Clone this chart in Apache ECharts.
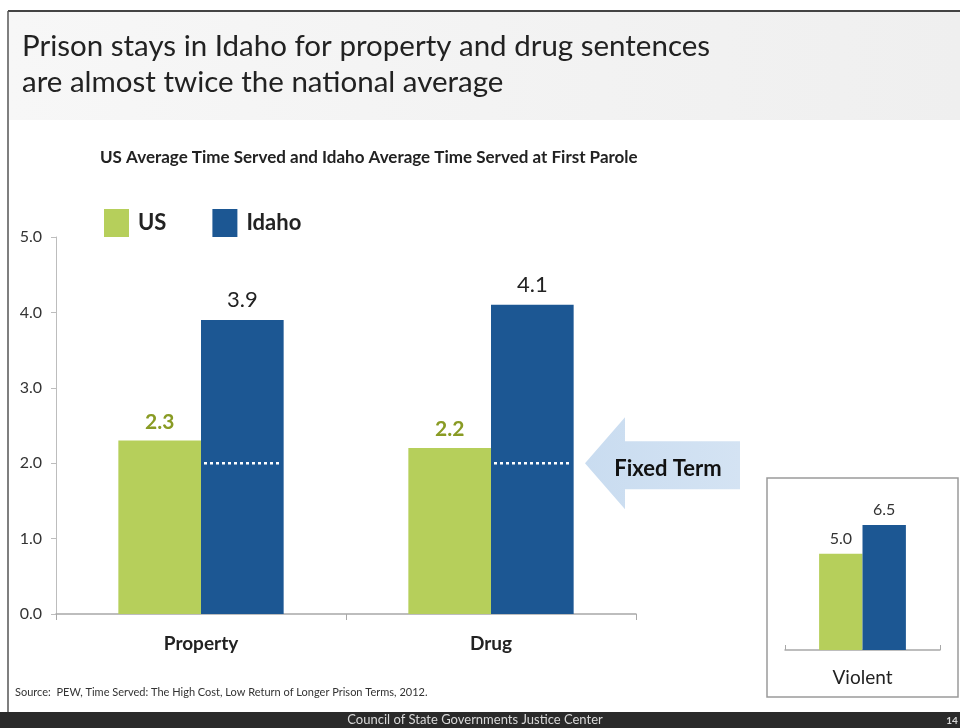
<!DOCTYPE html>
<html>
<head>
<meta charset="utf-8">
<script src="https://cdn.jsdelivr.net/npm/echarts@6/dist/echarts.min.js"></script>
<style>
  html, body { margin: 0; padding: 0; background: #fff; }
  #chart { width: 960px; height: 728px; }
</style>
</head>
<body>
<div id="chart"></div>
<script>
// Main panel: property and drug offences
const categories = ['Property', 'Drug'];
const usValues = [2.3, 2.2];
const idahoValues = [3.9, 4.1];
const fixedTerm = [2.0, 2.0];
const yTicks = [0, 1, 2, 3, 4, 5];

// Inset panel: violent offences
const violentCategories = ['Violent'];
const usViolent = [5.0];
const idahoViolent = [6.5];

const GREEN = '#b6cf5b';
const BLUE = '#1c5793';
const FONT = 'Lato, "Open Sans", sans-serif';

const chart = echarts.init(document.getElementById('chart'));

const option = {
  backgroundColor: '#ffffff',
  animation: false,
  textStyle: { fontFamily: FONT },
  legend: {
    data: ['US', 'Idaho'],
    left: 99,
    top: 204,
    itemWidth: 25,
    itemHeight: 28,
    itemGap: 46,
    icon: 'rect',
    textStyle: { fontSize: 22, fontWeight: 'bold', color: '#222', fontFamily: FONT, padding: [0, 0, 0, 4] }
  },
  grid: [
    { left: 56, top: 237, width: 580, height: 377 },
    { left: 785, top: 496, width: 155, height: 154 }
  ],
  xAxis: [
    {
      type: 'category', gridIndex: 0, data: categories,
      axisLine: { lineStyle: { color: '#a8a8a8', width: 1.5 } },
      axisTick: { show: true, lineStyle: { color: '#a8a8a8' }, length: 6 },
      axisLabel: { fontSize: 19, fontWeight: 'bold', color: '#222', margin: 20, fontFamily: FONT }
    },
    {
      type: 'category', gridIndex: 1, data: violentCategories,
      axisLine: { lineStyle: { color: '#a8a8a8', width: 1.5 } },
      axisTick: { show: true, inside: true, length: 5, lineStyle: { color: '#a8a8a8' } },
      axisLabel: { fontSize: 19, color: '#222', margin: 18, fontFamily: FONT }
    }
  ],
  yAxis: [
    {
      type: 'value', gridIndex: 0, min: yTicks[0], max: yTicks[yTicks.length - 1], interval: 1,
      axisLine: { show: true, lineStyle: { color: '#bdbdbd', width: 1 } },
      axisTick: { show: true, length: 5, lineStyle: { color: '#bdbdbd' } },
      splitLine: { show: false },
      axisLabel: { fontSize: 16, color: '#333', margin: 14, formatter: v => v.toFixed(1), fontFamily: FONT }
    },
    {
      type: 'value', gridIndex: 1, min: 0, max: 8,
      show: false, splitLine: { show: false }
    }
  ],
  series: [
    {
      name: 'US', type: 'bar', xAxisIndex: 0, yAxisIndex: 0, data: usValues,
      itemStyle: { color: GREEN }, barGap: '0%', barCategoryGap: '43%',
      label: { show: true, position: 'top', distance: 8, fontSize: 21, fontWeight: 'bold', color: '#899b24',
               formatter: p => p.value.toFixed(1), fontFamily: FONT }
    },
    {
      name: 'Idaho', type: 'bar', xAxisIndex: 0, yAxisIndex: 0, data: idahoValues,
      itemStyle: { color: BLUE }, barGap: '0%', barCategoryGap: '43%',
      label: { show: true, position: 'top', distance: 9, fontSize: 22, color: '#222',
               formatter: p => p.value.toFixed(1), fontFamily: FONT }
    },
    {
      name: 'US', type: 'bar', xAxisIndex: 1, yAxisIndex: 1, data: usViolent,
      itemStyle: { color: GREEN }, barGap: '0%', barCategoryGap: '44%',
      label: { show: true, position: 'top', distance: 7, fontSize: 16, color: '#333',
               formatter: p => p.value.toFixed(1), fontFamily: FONT }
    },
    {
      name: 'Idaho', type: 'bar', xAxisIndex: 1, yAxisIndex: 1, data: idahoViolent,
      itemStyle: { color: BLUE }, barGap: '0%', barCategoryGap: '44%',
      label: { show: true, position: 'top', distance: 7, fontSize: 16, color: '#333',
               formatter: p => p.value.toFixed(1), fontFamily: FONT }
    },
    {
      // dotted white marker for the fixed term across each Idaho bar
      name: 'Fixed term', type: 'custom', xAxisIndex: 0, yAxisIndex: 0,
      data: fixedTerm.map((v, i) => [i, v]),
      z: 10,
      renderItem: function (params, api) {
        const pt = api.coord([api.value(0), api.value(1)]);
        const catW = api.size([1, 0])[0];
        const barW = catW * (1 - 0.43) / 2;
        return {
          type: 'line',
          shape: { x1: pt[0] + 3, y1: pt[1], x2: pt[0] + barW - 2, y2: pt[1] },
          style: { stroke: '#ffffff', lineWidth: 2.5, lineDash: [3, 3] }
        };
      }
    }
  ],
  graphic: []
};

chart.setOption(option);

// Decorations: frame, title band, headings, arrow, inset box and footer
const arrowY = chart.convertToPixel({ xAxisIndex: 0, yAxisIndex: 0 }, [1, fixedTerm[1]])[1];
const tipX = 585;
chart.setOption({
  graphic: [
    { type: 'rect', z: -10, shape: { x: 9, y: 12, width: 951, height: 108 },
      style: { fill: new echarts.graphic.LinearGradient(0, 0, 1, 0, [
        { offset: 0, color: '#f7f7f7' }, { offset: 1, color: '#efefef' }]) } },
    { type: 'line', shape: { x1: 8, y1: 11, x2: 960, y2: 11 }, style: { stroke: '#444', lineWidth: 2 } },
    { type: 'line', shape: { x1: 8, y1: 11, x2: 8, y2: 712 }, style: { stroke: '#555', lineWidth: 1.5 } },
    { type: 'text', left: 22, top: 28, style: {
        text: 'Prison stays in Idaho for property and drug sentences\nare almost twice the national average',
        font: '29.5px ' + FONT, fill: '#222', lineHeight: 36 } },
    { type: 'text', left: 100, top: 149, style: {
        text: 'US Average Time Served and Idaho Average Time Served at First Parole',
        font: 'bold 17px ' + FONT, fill: '#222' } },
    { type: 'polygon', shape: { points: [
        [tipX, arrowY], [tipX + 40, arrowY - 46], [tipX + 40, arrowY - 22],
        [740, arrowY - 22], [740, arrowY + 26], [tipX + 40, arrowY + 26], [tipX + 40, arrowY + 46] ] },
      style: { fill: new echarts.graphic.LinearGradient(0, 0, 1, 0, [
        { offset: 0, color: '#c9dcf0' }, { offset: 1, color: '#d4e3f3' }]) } },
    { type: 'text', x: 668, y: arrowY + 6, style: {
        text: 'Fixed Term', font: 'bold 22px ' + FONT, fill: '#111', align: 'center', verticalAlign: 'middle' } },
    { type: 'rect', shape: { x: 767, y: 478, width: 191, height: 219 },
      style: { fill: 'none', stroke: '#9a9a9a', lineWidth: 1.5 } },
    { type: 'text', left: 15, top: 687, style: {
        text: 'Source:  PEW, Time Served: The High Cost, Low Return of Longer Prison Terms, 2012.',
        font: '11px ' + FONT, fill: '#333' } },
    { type: 'rect', shape: { x: 0, y: 712, width: 960, height: 16 }, style: { fill: '#2a2a2a' } },
    { type: 'text', x: 475, y: 720, style: {
        text: 'Council of State Governments Justice Center', font: '13px ' + FONT,
        fill: '#d8d8d8', align: 'center', verticalAlign: 'middle' } },
    { type: 'text', x: 952, y: 721, style: {
        text: '14', font: 'bold 10px ' + FONT, fill: '#d8d8d8', align: 'center', verticalAlign: 'middle' } }
  ]
});
</script>
</body>
</html>
